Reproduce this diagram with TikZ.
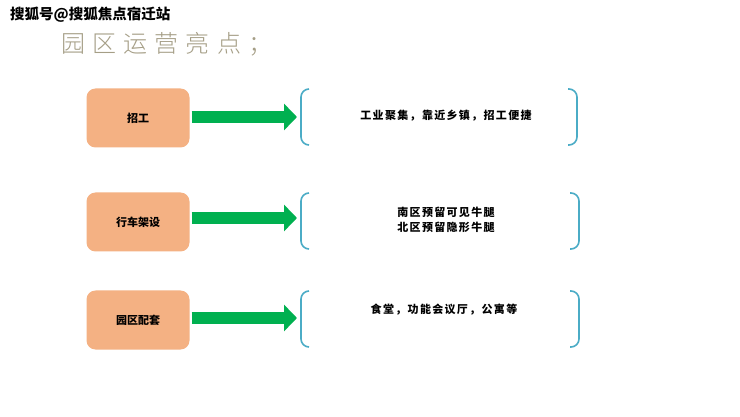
\documentclass[tikz,border=0pt]{standalone}
\usepackage{fontspec}
\newfontfamily\cjk{Noto Sans CJK SC}
\newfontfamily\cjkwide[LetterSpace=12]{Noto Sans CJK SC}
\newfontfamily\cjktitle[LetterSpace=30]{Noto Sans CJK SC Light}
\usetikzlibrary{arrows.meta}
\definecolor{boxfill}{HTML}{F4B183}
\definecolor{arrowgreen}{HTML}{00B050}
\definecolor{brack}{HTML}{4BACC6}
\definecolor{titlecol}{HTML}{A59E86}
\tikzset{
  catbox/.style={draw=none, fill=boxfill, rounded corners=9pt, minimum width=103pt, minimum height=59pt, inner sep=0pt, font=\cjk\bfseries\fontsize{11}{13}\selectfont},
  bigarrow/.style={arrowgreen, line width=12pt, -{Triangle[length=13pt,width=26pt]}},
  bracketline/.style={brack, line width=1.6pt, rounded corners=8pt},
  desc/.style={align=center, inner sep=0pt, font=\cjkwide\bfseries\fontsize{11}{15}\selectfont},
}
\begin{document}
\begin{tikzpicture}[x=1pt,y=-1pt]
\useasboundingbox[fill=white] (0,0) rectangle (740,417);
% watermark and title
\node[anchor=west, inner sep=0pt, font=\cjk\bfseries\fontsize{14.5}{16}\selectfont] (wm) at (10,15) {搜狐号@搜狐焦点宿迁站};
\node[anchor=west, inner sep=0pt, text=titlecol, font=\cjktitle\fontsize{24}{26}\selectfont] (title) at (61,44) {园区运营亮点；};
% row 1
\node[catbox] (b1) at (138,118) {招工};
\coordinate (a1) at (297,117);
\draw[bigarrow] (b1.east |- a1) ++(2,0) -- (a1);
\draw[bracketline] (309,89) -- (301,89) -- (301,145) -- (309,145);
\draw[bracketline] (568,89) -- (577,89) -- (577,145) -- (568,145);
\node[desc] (t1) at (446,116) {工业聚集，靠近乡镇，招工便捷};
% row 2
\node[catbox] (b2) at (138,222) {行车架设};
\coordinate (a2) at (297,218);
\draw[bigarrow] (b2.east |- a2) ++(2,0) -- (a2);
\draw[bracketline] (309,193) -- (301,193) -- (301,249) -- (309,249);
\draw[bracketline] (570,193) -- (579,193) -- (579,249) -- (570,249);
\node[desc] (t2) at (446,220) {南区预留可见牛腿\\北区预留隐形牛腿};
% row 3
\node[catbox] (b3) at (138,320) {园区配套};
\coordinate (a3) at (297,318);
\draw[bigarrow] (b3.east |- a3) ++(2,0) -- (a3);
\draw[bracketline] (309,291) -- (301,291) -- (301,347) -- (309,347);
\draw[bracketline] (570,291) -- (579,291) -- (579,347) -- (570,347);
\node[desc] (t3) at (444,310) {食堂，功能会议厅，公寓等};
\end{tikzpicture}
\end{document}
